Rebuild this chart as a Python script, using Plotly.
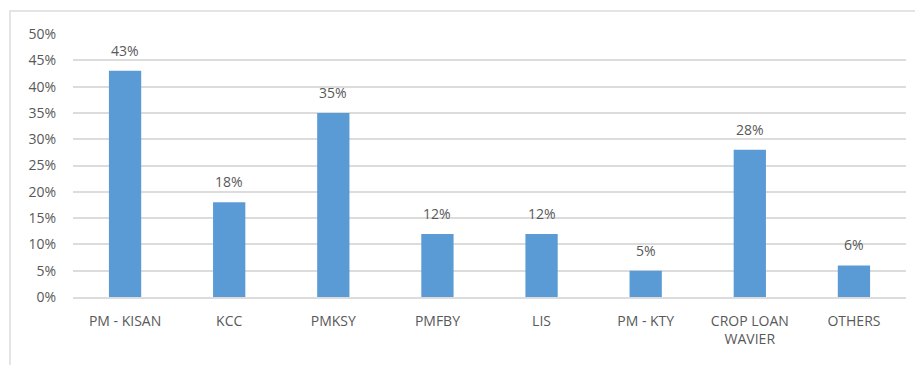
import plotly.graph_objects as go

# Scheme awareness / uptake shares
categories = ["PM - KISAN", "KCC", "PMKSY", "PMFBY", "LIS", "PM - KTY", "CROP LOAN<br>WAVIER", "OTHERS"]
values = [43, 18, 35, 12, 12, 5, 28, 6]
y_ticks = [0, 5, 10, 15, 20, 25, 30, 35, 40, 45, 50]
y_tick_text = [f"{t}%" for t in y_ticks]

BAR = "#5B9BD5"
GRID = "#DCDCDC"
TEXT = "#595959"
FONT = "Open Sans"

fig = go.Figure(
    go.Bar(
        x=categories,
        y=values,
        marker=dict(color=BAR, line=dict(width=0)),
        hoverinfo="skip",
    )
)

# value labels above each bar
for c, v in zip(categories, values):
    fig.add_annotation(
        x=c, y=v, text=f"{v}%", showarrow=False,
        yanchor="bottom", yshift=9,
        font=dict(family=FONT, size=14, color=TEXT),
    )

# outer chart frame (partially cropped on right and bottom)
fig.add_shape(
    type="rect", xref="paper", yref="paper",
    x0=-0.0756, x1=1.02, y0=-0.30, y1=1.0875,
    line=dict(color=GRID, width=1.5), fillcolor="rgba(0,0,0,0)", layer="below",
)

fig.update_layout(
    width=915, height=365,
    margin=dict(l=73, r=9, t=34, b=68),
    paper_bgcolor="white", plot_bgcolor="white",
    bargap=0.69,
    showlegend=False,
    font=dict(family=FONT, size=14, color=TEXT),
    xaxis=dict(
        showgrid=False, showline=True, linecolor=GRID, linewidth=1.5,
        ticks="", tickfont=dict(family=FONT, size=14, color=TEXT),
        ticklabelstandoff=10, fixedrange=True,
    ),
    yaxis=dict(
        range=[0, 50], tickvals=y_ticks, ticktext=y_tick_text,
        showgrid=True, gridcolor=GRID, gridwidth=1.5,
        zeroline=False, showline=False, ticks="",
        tickfont=dict(family=FONT, size=14, color=TEXT),
        ticklabelstandoff=16, fixedrange=True,
    ),
)

fig.write_html("out.html")
